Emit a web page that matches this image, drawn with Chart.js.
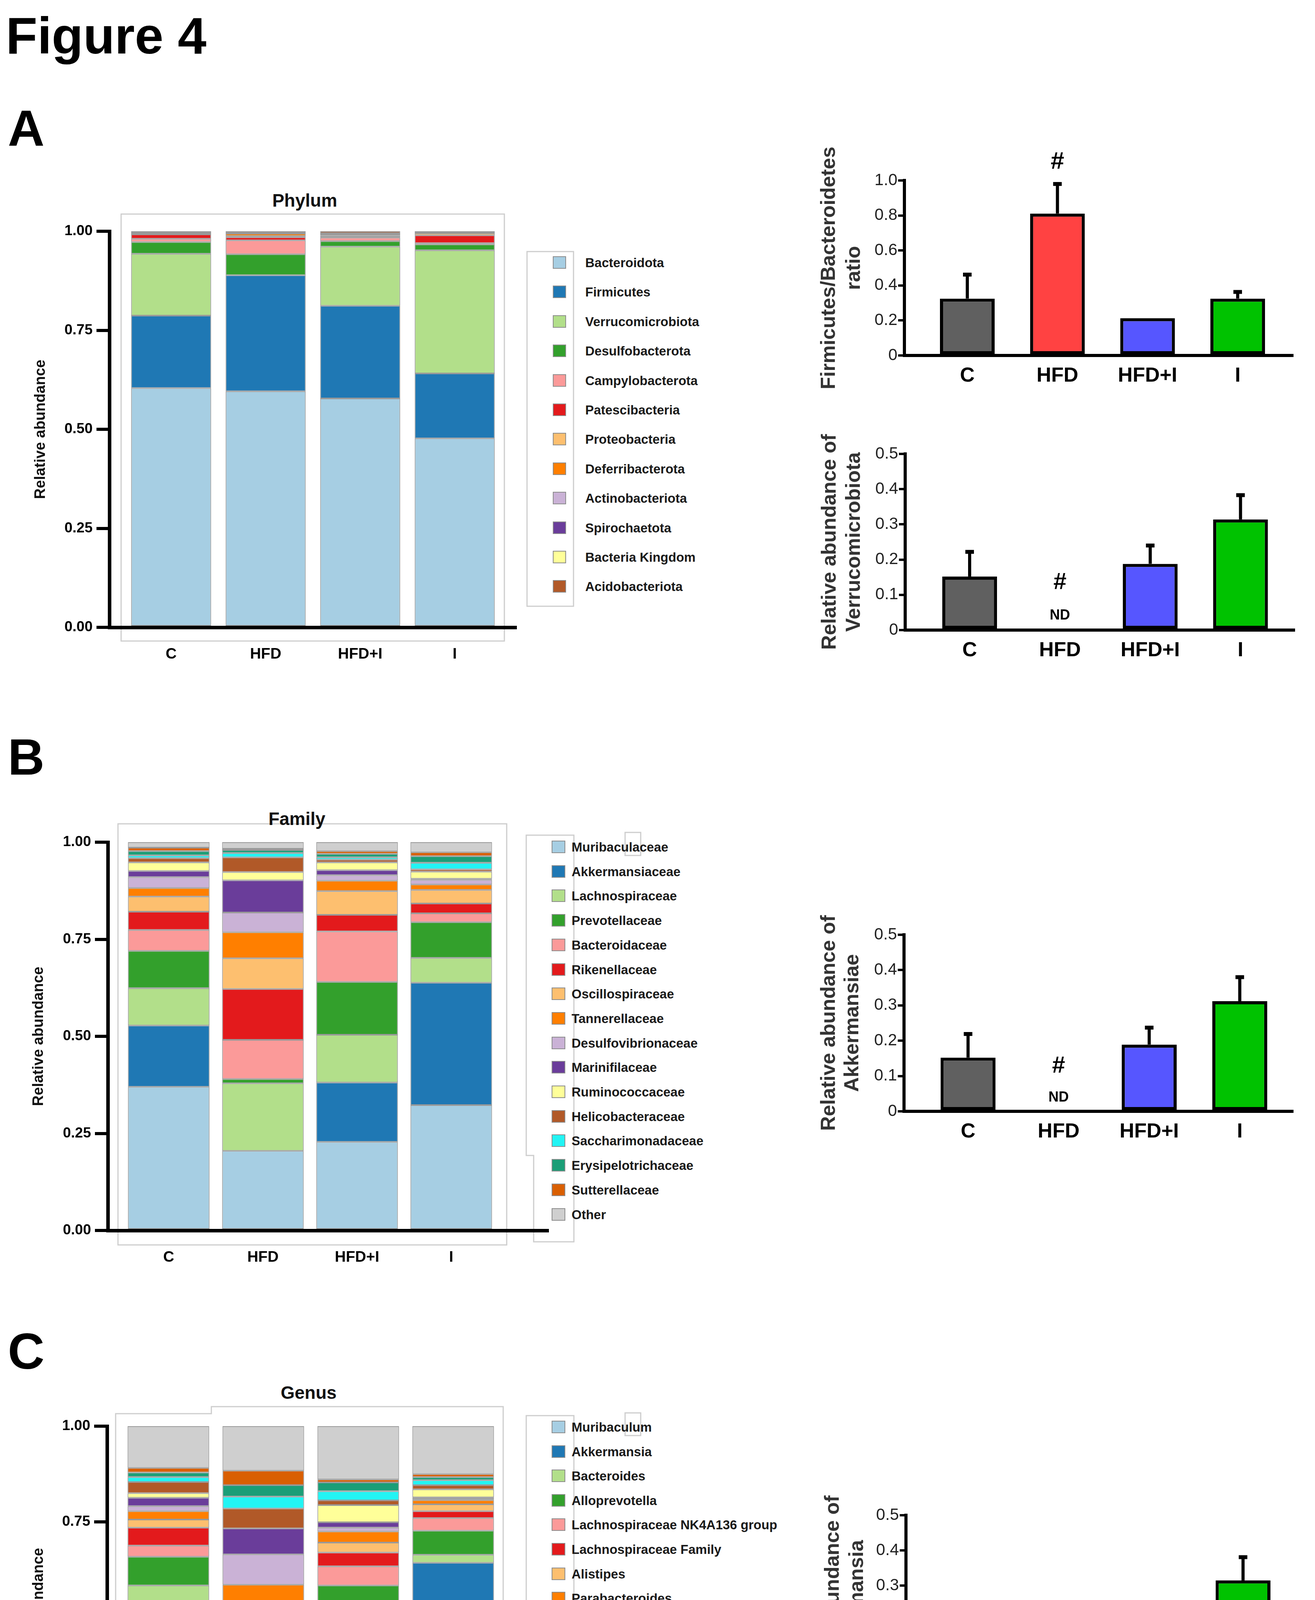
<!DOCTYPE html>
<html><head><meta charset="utf-8">
<script src="https://cdn.jsdelivr.net/npm/chart.js@4.4.1/dist/chart.umd.min.js"></script>
<style>
html,body{margin:0;padding:0;background:#fff;}
body{width:3366px;height:4751px;position:relative;overflow:hidden;font-family:"Liberation Sans",Arial,sans-serif;}
.hd{position:absolute;font-weight:bold;line-height:1;color:#000;white-space:nowrap;}
.ttl{position:absolute;font-weight:bold;line-height:1;color:#111;white-space:nowrap;text-align:center;width:600px;font-size:46px;}
canvas{position:absolute;}
.sw{position:absolute;box-sizing:border-box;border:2px solid #8c8c8c;}
.lt{position:absolute;font-weight:bold;font-size:33px;line-height:1;color:#1a1a1a;white-space:nowrap;}
</style></head><body>
<svg id="frames" width="3366" height="4751" style="position:absolute;left:0;top:0"></svg>
<div class="hd" style="left:15px;top:26px;font-size:132px">Figure 4</div>
<div class="hd" style="left:20px;top:263px;font-size:130px">A</div>
<div class="hd" style="left:20px;top:1873px;font-size:130px">B</div>
<div class="hd" style="left:20px;top:3394px;font-size:130px">C</div>
<div class="ttl" style="left:480px;top:490px">Phylum</div>
<div class="ttl" style="left:460px;top:2073px">Family</div>
<div class="ttl" style="left:490px;top:3542px">Genus</div>
<script>
// ---------------- DATA ----------------
const groups = ['C', 'HFD', 'HFD+I', 'I'];
const stackTicks = [0, 0.25, 0.5, 0.75, 1.0];

const phylumNames = ['Bacteroidota','Firmicutes','Verrucomicrobiota','Desulfobacterota','Campylobacterota','Patescibacteria','Proteobacteria','Deferribacterota','Actinobacteriota','Spirochaetota','Bacteria Kingdom','Acidobacteriota'];
const phylumValues = [
  [0.604, 0.596, 0.578, 0.477],
  [0.183, 0.293, 0.234, 0.164],
  [0.156, 0.000, 0.149, 0.311],
  [0.030, 0.053, 0.014, 0.015],
  [0.008, 0.035, 0.009, 0.003],
  [0.011, 0.008, 0.004, 0.020],
  [0.002, 0.003, 0.002, 0.005],
  [0.002, 0.006, 0.002, 0.001],
  [0.001, 0.001, 0.001, 0.001],
  [0.001, 0.001, 0.001, 0.001],
  [0.001, 0.001, 0.001, 0.001],
  [0.001, 0.003, 0.005, 0.001]
];

const familyNames = ['Muribaculaceae','Akkermansiaceae','Lachnospiraceae','Prevotellaceae','Bacteroidaceae','Rikenellaceae','Oscillospiraceae','Tannerellaceae','Desulfovibrionaceae','Marinifilaceae','Ruminococcaceae','Helicobacteraceae','Saccharimonadaceae','Erysipelotrichaceae','Sutterellaceae','Other'];
const familyValues = [
  [0.370, 0.205, 0.228, 0.323],
  [0.158, 0.000, 0.153, 0.315],
  [0.096, 0.174, 0.123, 0.064],
  [0.096, 0.011, 0.136, 0.092],
  [0.054, 0.101, 0.130, 0.023],
  [0.047, 0.131, 0.043, 0.025],
  [0.039, 0.079, 0.061, 0.035],
  [0.022, 0.067, 0.027, 0.014],
  [0.028, 0.051, 0.014, 0.012],
  [0.016, 0.083, 0.013, 0.003],
  [0.022, 0.021, 0.020, 0.018],
  [0.011, 0.038, 0.007, 0.006],
  [0.007, 0.011, 0.006, 0.017],
  [0.011, 0.008, 0.009, 0.017],
  [0.009, 0.003, 0.007, 0.010],
  [0.014, 0.017, 0.023, 0.026]
];

const genusNames = ['Muribaculum','Akkermansia','Bacteroides','Alloprevotella','Lachnospiraceae NK4A136 group','Lachnospiraceae Family','Alistipes','Parabacteroides','Odoribacter','Rikenellaceae Rc9 gut group','Prevotellaceae UCG 001','Desulfovibrionaceae Family','Oscillospiraceae Family','Colidextribacter','Helicobacter','Other'];
const genusValues = [
  [0.372, 0.204, 0.231, 0.326],
  [0.158, 0.000, 0.152, 0.317],
  [0.054, 0.104, 0.129, 0.021],
  [0.075, 0.003, 0.072, 0.063],
  [0.029, 0.090, 0.050, 0.033],
  [0.047, 0.056, 0.036, 0.018],
  [0.021, 0.061, 0.026, 0.018],
  [0.022, 0.068, 0.029, 0.011],
  [0.013, 0.079, 0.010, 0.003],
  [0.022, 0.068, 0.014, 0.004],
  [0.012, 0.000, 0.045, 0.021],
  [0.029, 0.052, 0.012, 0.011],
  [0.013, 0.031, 0.024, 0.013],
  [0.012, 0.030, 0.023, 0.008],
  [0.012, 0.038, 0.008, 0.008],
  [0.109, 0.116, 0.139, 0.125]
];

const fbRatio      = [0.325, 0.811, 0.213, 0.325];
const fbRatioErr   = [0.137, 0.169, 0.000, 0.038];
const verrucoAbund = [0.152, null, 0.188, 0.314];
const verrucoErr   = [0.070, 0.000, 0.052, 0.069];
const akkFamAbund  = [0.152, null, 0.189, 0.312];
const akkFamErr    = [0.067, 0.000, 0.048, 0.068];
const akkGenAbund  = [0.154, null, 0.190, 0.315];
const akkGenErr    = [0.067, 0.000, 0.048, 0.066];
const fbTicks   = [0, 0.2, 0.4, 0.6, 0.8, 1.0];
const halfTicks = [0, 0.1, 0.2, 0.3, 0.4, 0.5];

// ---------------- STYLES ----------------
const taxaPalette = ['#A6CEE3','#1F78B4','#B2DF8A','#33A02C','#FB9A99','#E31A1C','#FDBF6F','#FF7F00','#CAB2D6','#6A3D9A','#FFFF99','#B15928','#22F4F4','#1B9E77','#D95F02','#CFCFCF'];
const groupColors = ['#606060','#FF4242','#5656FF','#00C200'];
const FONT = '"Liberation Sans", Arial, sans-serif';
Chart.defaults.font.family = FONT;
Chart.defaults.color = '#000';

// ---------------- FRAMES ----------------
const frameShapes = [
  'M310 548 H1291 V1641 H310 Z',
  'M302 2109 H1297 V3187 H302 Z',
  'M296 3619 H541 V3601 H1288 V4653 H809 V4660 H296 Z',
  'M1349 644 H1468 V1552 H1349 Z',
  'M1347 2138 H1469 V3179 H1366 V2958 H1347 Z',
  'M1600 2131 H1640 V2190 H1600 Z',
  'M1347 3624 H1469 V4662 H1366 V4445 H1347 Z',
  'M1600 3617 H1640 V3675 H1600 Z'
];
document.getElementById('frames').innerHTML = frameShapes.map(d =>
  `<path d="${d}" fill="none" stroke="#cdcdcd" stroke-width="3"/>`).join('');

// ---------------- LEGENDS ----------------
function legend(names, colors, o) {
  names.forEach((n, k) => {
    const cy = o.y0 + k * o.dy;
    const sw = document.createElement('div');
    sw.className = 'sw';
    sw.style.left = o.sx + 'px'; sw.style.top = (cy - o.sh / 2) + 'px';
    sw.style.width = o.sw + 'px'; sw.style.height = o.sh + 'px';
    sw.style.background = colors[k];
    document.body.appendChild(sw);
    const t = document.createElement('div');
    t.className = 'lt';
    t.textContent = n;
    t.style.left = o.tx + 'px'; t.style.top = (cy - 16) + 'px';
    document.body.appendChild(t);
  });
}
legend(phylumNames, taxaPalette, {y0: 672, dy: 75.4, sx: 1415, sw: 34, sh: 32, tx: 1498});
legend(familyNames, taxaPalette, {y0: 2168, dy: 62.7, sx: 1412, sw: 35, sh: 32, tx: 1463});
legend(genusNames, taxaPalette, {y0: 3653, dy: 62.6, sx: 1412, sw: 35, sh: 32, tx: 1463});

// ---------------- CHART HELPERS ----------------
function makeCanvas(L) {
  const cv = document.createElement('canvas');
  cv.width = L.w; cv.height = L.h;
  cv.style.left = L.x + 'px'; cv.style.top = L.y + 'px';
  cv.style.width = L.w + 'px'; cv.style.height = L.h + 'px';
  document.body.appendChild(cv);
  return cv;
}

function stackedChart(names, values, L) {
  const cv = makeCanvas(L);
  new Chart(cv, {
    type: 'bar',
    data: {
      datasets: names.map((n, k) => ({
        label: n,
        data: values[k].map((v, i) => ({x: i, y: v})),
        backgroundColor: taxaPalette[k],
        borderColor: 'rgba(70,70,70,0.55)',
        borderWidth: 2,
        borderSkipped: false,
        barPercentage: L.barPct,
        categoryPercentage: 1
      }))
    },
    options: {
      responsive: false, animation: false, devicePixelRatio: 1,
      layout: {padding: {top: 40, right: 10, bottom: 0, left: 0}},
      plugins: {legend: {display: false}, tooltip: {enabled: false}, title: {display: false}},
      scales: {
        x: {
          type: 'linear', offset: false, stacked: true, min: L.xMin, max: L.xMax,
          afterBuildTicks: s => { s.ticks = groups.map((g, i) => ({value: i})); },
          afterFit: s => { s.height = 110; },
          ticks: {callback: v => groups[v], font: {size: 39, weight: 'bold'}, color: '#000', padding: 46, maxRotation: 0, autoSkip: false},
          grid: {display: false, drawTicks: false, offset: false},
          border: {display: true, color: '#000', width: 9}
        },
        y: {
          stacked: true, min: 0, max: 1,
          afterBuildTicks: s => { s.ticks = stackTicks.map(v => ({value: v})); },
          afterFit: s => { s.width = L.yw; },
          ticks: {callback: v => v.toFixed(2), font: {size: 37, weight: 'bold'}, color: '#000', padding: 10},
          grid: {display: true, drawOnChartArea: false, drawTicks: true, tickLength: 33, lineWidth: 8, color: '#000'},
          border: {display: true, color: '#000', width: 9},
          title: {display: true, text: 'Relative abundance', font: {size: 38, weight: 'bold'}, color: '#111', padding: {top: 22, bottom: 0}}
        }
      }
    }
  });
}

const errorBars = {
  id: 'errorBars',
  afterDatasetsDraw(chart, args, o) {
    const {ctx} = chart;
    const x = chart.scales.x, y = chart.scales.y;
    ctx.save();
    ctx.strokeStyle = '#000';
    ctx.lineWidth = 8;
    o.values.forEach((v, i) => {
      if (v == null || !o.errors[i]) return;
      const px = x.getPixelForValue(i);
      const y0 = y.getPixelForValue(v), y1 = y.getPixelForValue(v + o.errors[i]);
      ctx.beginPath(); ctx.moveTo(px, y0); ctx.lineTo(px, y1); ctx.stroke();
      ctx.lineWidth = 10;
      ctx.beginPath(); ctx.moveTo(px - 11, y1); ctx.lineTo(px + 11, y1); ctx.stroke();
      ctx.lineWidth = 8;
    });
    ctx.fillStyle = '#000';
    ctx.textAlign = 'center';
    ctx.textBaseline = 'middle';
    (o.marks || []).forEach(m => {
      ctx.font = 'bold ' + m.size + 'px ' + FONT;
      ctx.fillText(m.text, x.getPixelForValue(m.index), y.getPixelForValue(m.value));
    });
    ctx.restore();
  }
};

function groupChart(values, errors, ticksList, yTitle, marks, L) {
  const cv = makeCanvas(L);
  new Chart(cv, {
    type: 'bar',
    data: {
      datasets: [{
        data: values.map((v, i) => ({x: i, y: v})),
        backgroundColor: groupColors,
        borderColor: '#000',
        borderWidth: 8,
        borderSkipped: false,
        barPercentage: 0.607,
        categoryPercentage: 1
      }]
    },
    options: {
      responsive: false, animation: false, devicePixelRatio: 1,
      layout: {padding: {top: L.padTop, right: 12, bottom: 0, left: 0}},
      plugins: {legend: {display: false}, tooltip: {enabled: false},
        errorBars: {values: values, errors: errors, marks: marks}},
      scales: {
        x: {
          type: 'linear', offset: false, min: L.xMin, max: L.xMax,
          afterBuildTicks: s => { s.ticks = groups.map((g, i) => ({value: i})); },
          afterFit: s => { s.height = 90; },
          ticks: {callback: v => groups[v], font: {size: 52, weight: 'bold'}, color: '#000', padding: 21, maxRotation: 0, autoSkip: false},
          grid: {display: false, drawTicks: false, offset: false},
          border: {display: true, color: '#000', width: 8}
        },
        y: {
          min: 0, max: ticksList[ticksList.length - 1],
          afterBuildTicks: s => { s.ticks = ticksList.map(v => ({value: v})); },
          afterFit: s => { s.width = L.yw; },
          ticks: {callback: v => v === 0 ? '0' : v.toFixed(1), font: {size: 42}, color: '#222', padding: 2},
          grid: {display: true, drawOnChartArea: false, drawTicks: true, tickLength: 16, lineWidth: 6, color: '#000'},
          border: {display: true, color: '#000', width: 8},
          title: {display: true, text: yTitle, font: {size: 52, weight: 'bold', lineHeight: L.tlh}, color: '#333', padding: {top: 0, bottom: 0}}
        }
      }
    },
    plugins: [errorBars]
  });
}

// ---------------- CHARTS ----------------
stackedChart(phylumNames, phylumValues, {x: 60, y: 552, w: 1272, h: 1164, yw: 220, xMin: -0.653, xMax: 3.653, barPct: 0.847});
stackedChart(familyNames, familyValues, {x: 55, y: 2116, w: 1359, h: 1144, yw: 221, xMin: -0.647, xMax: 4.033, barPct: 0.867});
stackedChart(genusNames, genusValues, {x: 55, y: 3611, w: 1271, h: 1130, yw: 219, xMin: -0.646, xMax: 3.642, barPct: 0.86});

groupChart(fbRatio, fbRatioErr, fbTicks, ['Firmicutes/Bacteroidetes', 'ratio'],
  [{text: '#', index: 1, value: 1.105, size: 62}],
  {x: 2091, y: 370, w: 1231, h: 630, yw: 224, padTop: 92, xMin: -0.698, xMax: 3.615, tlh: 1.23});
groupChart(verrucoAbund, verrucoErr, halfTicks, ['Relative abundance of', 'Verrucomicrobiota'],
  [{text: '#', index: 1, value: 0.135, size: 60}, {text: 'ND', index: 1, value: 0.041, size: 36}],
  {x: 2094, y: 1102, w: 1232, h: 601, yw: 223, padTop: 60, xMin: -0.714, xMax: 3.60, tlh: 1.19});
groupChart(akkFamAbund, akkFamErr, halfTicks, ['Relative abundance of', 'Akkermansiae'],
  [{text: '#', index: 1, value: 0.128, size: 60}, {text: 'ND', index: 1, value: 0.039, size: 36}],
  {x: 2093, y: 2333, w: 1229, h: 602, yw: 221, padTop: 60, xMin: -0.707, xMax: 3.589, tlh: 1.154});
groupChart(akkGenAbund, akkGenErr, halfTicks, ['Relative abundance of', 'Akkermansia'],
  [{text: '#', index: 1, value: 0.142, size: 60}, {text: 'ND', index: 1, value: 0.040, size: 36}],
  {x: 2102, y: 3819, w: 1228, h: 601, yw: 217, padTop: 60, xMin: -0.731, xMax: 3.589, tlh: 1.19});
</script>
</body></html>
